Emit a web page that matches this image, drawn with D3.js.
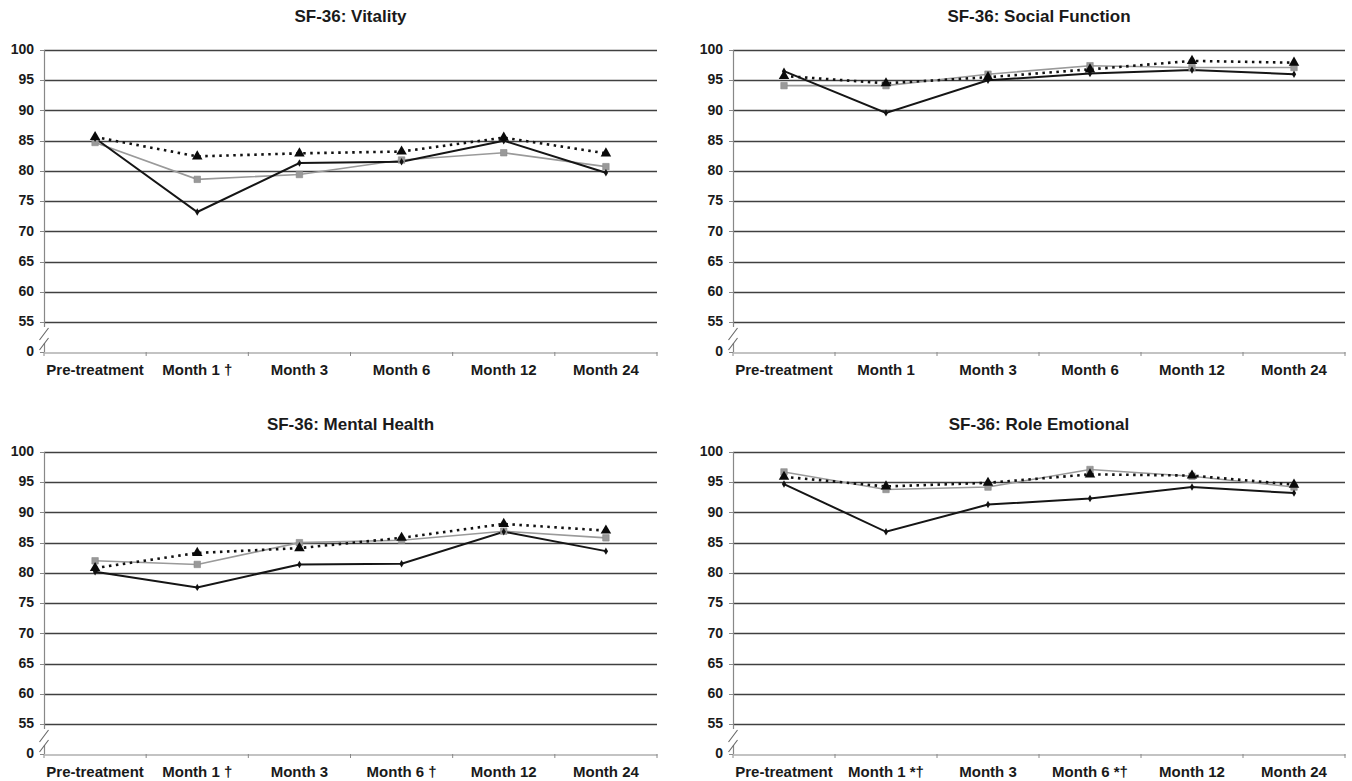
<!DOCTYPE html>
<html>
<head>
<meta charset="utf-8">
<script src="https://cdn.jsdelivr.net/npm/d3@7/dist/d3.min.js"></script>
<style>
  html, body { margin: 0; padding: 0; background: #fff; }
  svg { display: block; }
  text { font-family: "Liberation Sans", Arial, sans-serif; font-weight: bold; fill: #1a1a1a; }
</style>
</head>
<body>
<svg id="chart" width="1352" height="781"></svg>
<script>
// ---- Data ----
const titles = ["SF-36: Vitality", "SF-36: Social Function", "SF-36: Mental Health", "SF-36: Role Emotional"];
const categoriesVitality = ["Pre-treatment", "Month 1 \u2020", "Month 3", "Month 6", "Month 12", "Month 24"];
const categoriesSocial   = ["Pre-treatment", "Month 1", "Month 3", "Month 6", "Month 12", "Month 24"];
const categoriesMental   = ["Pre-treatment", "Month 1 \u2020", "Month 3", "Month 6 \u2020", "Month 12", "Month 24"];
const categoriesRole     = ["Pre-treatment", "Month 1 *\u2020", "Month 3", "Month 6 *\u2020", "Month 12", "Month 24"];
const yTicks = [0, 55, 60, 65, 70, 75, 80, 85, 90, 95, 100];

// series: black solid (diamond), gray solid (square), black dotted (triangle)
const vitalityBlack  = [85.4, 73.2, 81.3, 81.5, 85.0, 79.7];
const vitalityGray   = [84.7, 78.6, 79.4, 81.8, 83.0, 80.7];
const vitalityDotted = [85.6, 82.4, 82.9, 83.2, 85.5, 82.9];

const socialBlack  = [96.5, 89.6, 95.0, 96.1, 96.7, 96.0];
const socialGray   = [94.1, 94.1, 96.0, 97.4, 97.1, 97.1];
const socialDotted = [95.7, 94.5, 95.5, 96.8, 98.2, 97.9];

const mentalBlack  = [80.2, 77.6, 81.4, 81.5, 86.8, 83.6];
const mentalGray   = [82.0, 81.4, 85.0, 85.4, 86.9, 85.8];
const mentalDotted = [80.8, 83.3, 84.1, 85.8, 88.1, 87.0];

const roleBlack  = [94.7, 86.8, 91.3, 92.3, 94.2, 93.2];
const roleGray   = [96.7, 93.8, 94.2, 97.1, 96.0, 94.2];
const roleDotted = [95.9, 94.3, 94.9, 96.3, 96.1, 94.6];

const panels = [
  { title: titles[0], cats: categoriesVitality, black: vitalityBlack, gray: vitalityGray, dotted: vitalityDotted, x0: 44, x1: 657, yTop: 50, yBot: 352, titleY: 18 },
  { title: titles[1], cats: categoriesSocial, black: socialBlack, gray: socialGray, dotted: socialDotted, x0: 733, x1: 1345, yTop: 50, yBot: 352, titleY: 18 },
  { title: titles[2], cats: categoriesMental, black: mentalBlack, gray: mentalGray, dotted: mentalDotted, x0: 44, x1: 657, yTop: 452, yBot: 754, titleY: 426 },
  { title: titles[3], cats: categoriesRole, black: roleBlack, gray: roleGray, dotted: roleDotted, x0: 733, x1: 1345, yTop: 452, yBot: 754, titleY: 426 }
];

const svg = d3.select("#chart");

panels.forEach(p => {
  const g = svg.append("g");
  const x = d3.scaleBand().domain(p.cats).range([p.x0, p.x1]);
  const y55 = p.yBot - 30;
  const y = d3.scaleLinear().domain([0, 55, 100]).range([p.yBot, y55, p.yTop]);

  // title
  g.append("text")
    .attr("x", (p.x0 + p.x1) / 2).attr("y", p.titleY)
    .attr("text-anchor", "middle").attr("dominant-baseline", "middle")
    .style("font-size", "17px")
    .text(p.title);

  // gridlines (55..100)
  g.selectAll("line.grid").data(yTicks.filter(t => t >= 55)).enter().append("line")
    .attr("x1", p.x0).attr("x2", p.x1)
    .attr("y1", d => Math.round(y(d)) + 0.5).attr("y2", d => Math.round(y(d)) + 0.5)
    .attr("stroke", "#404040").attr("stroke-width", 1.4);

  // y tick labels
  g.selectAll("text.yl").data(yTicks).enter().append("text")
    .attr("x", p.x0 - 10).attr("y", d => y(d) + 0.5)
    .attr("text-anchor", "end").attr("dominant-baseline", "middle")
    .style("font-size", "14px")
    .text(d => d);

  // y ticks
  g.selectAll("line.yt").data(yTicks).enter().append("line")
    .attr("x1", p.x0 - 4).attr("x2", p.x0)
    .attr("y1", d => Math.round(y(d)) + 0.5).attr("y2", d => Math.round(y(d)) + 0.5)
    .attr("stroke", "#888").attr("stroke-width", 1);

  // y axis line with break
  const ax = p.x0 + 0.5;
  g.append("line").attr("x1", ax).attr("x2", ax).attr("y1", p.yTop).attr("y2", y55 + 5)
    .attr("stroke", "#888").attr("stroke-width", 1.2);
  g.append("line").attr("x1", ax).attr("x2", ax).attr("y1", p.yBot - 9).attr("y2", p.yBot)
    .attr("stroke", "#888").attr("stroke-width", 1.2);
  [y55 + 12, y55 + 22].forEach(cy => {
    g.append("line").attr("x1", ax - 5).attr("y1", cy + 6).attr("x2", ax + 4).attr("y2", cy - 6)
      .attr("stroke", "#666").attr("stroke-width", 1.1);
  });

  // x axis
  const xAxis = d3.axisBottom(x).tickSize(0).tickPadding(0).tickFormat("");
  const xa = g.append("g").attr("transform", `translate(0,${p.yBot + 0.5})`).call(xAxis);
  xa.select(".domain").attr("stroke", "#888").attr("stroke-width", 1.2);
  const bounds = d3.range(p.cats.length + 1).map(i => p.x0 + i * x.bandwidth());
  g.selectAll("line.xt").data(bounds).enter().append("line")
    .attr("x1", d => d).attr("x2", d => d)
    .attr("y1", p.yBot).attr("y2", p.yBot + 4)
    .attr("stroke", "#888").attr("stroke-width", 1);
  g.selectAll("text.xl").data(p.cats).enter().append("text")
    .attr("x", d => x(d) + x.bandwidth() / 2).attr("y", p.yBot + 19)
    .attr("text-anchor", "middle").attr("dominant-baseline", "middle")
    .style("font-size", "15px")
    .text(d => d);

  const cx = i => x(p.cats[i]) + x.bandwidth() / 2;
  const line = d3.line().x((d, i) => cx(i)).y(d => y(d));

  // gray series
  g.append("path").attr("d", line(p.gray)).attr("fill", "none")
    .attr("stroke", "#9a9a9a").attr("stroke-width", 1.6);
  // black solid series
  g.append("path").attr("d", line(p.black)).attr("fill", "none")
    .attr("stroke", "#151515").attr("stroke-width", 2);
  // dotted series
  g.append("path").attr("d", line(p.dotted)).attr("fill", "none")
    .attr("stroke", "#111").attr("stroke-width", 2.6).attr("stroke-dasharray", "2.5,4.5");

  // markers
  g.selectAll("path.sq").data(p.gray).enter().append("path")
    .attr("d", d3.symbol().type(d3.symbolSquare).size(42))
    .attr("transform", (d, i) => `translate(${cx(i)},${y(d)})`)
    .attr("fill", "#999").attr("stroke", "#8a8a8a").attr("stroke-width", 0.6);
  g.selectAll("path.dm").data(p.black).enter().append("path")
    .attr("d", d3.symbol().type(d3.symbolDiamond).size(16))
    .attr("transform", (d, i) => `translate(${cx(i)},${y(d)})`)
    .attr("fill", "#111");
  g.selectAll("path.tr").data(p.dotted).enter().append("path")
    .attr("d", d3.symbol().type(d3.symbolTriangle).size(48))
    .attr("transform", (d, i) => `translate(${cx(i)},${y(d)})`)
    .attr("fill", "#0a0a0a");
});
</script>
</body>
</html>
